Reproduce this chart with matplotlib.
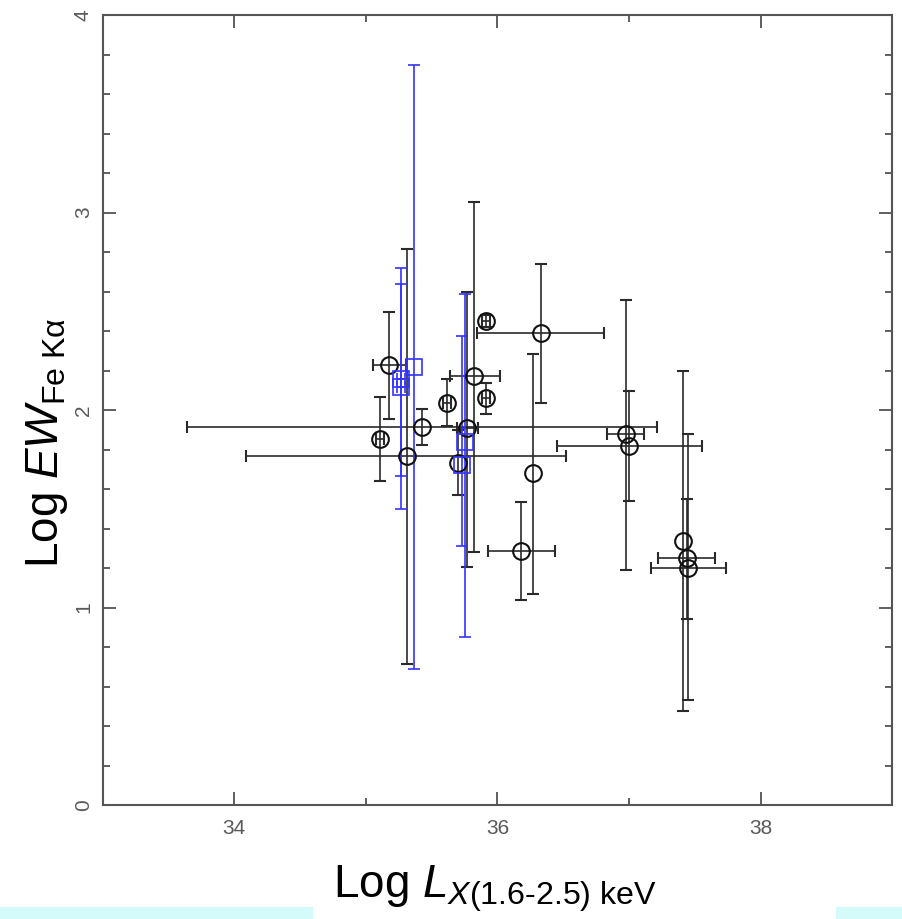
import numpy as np
import matplotlib
matplotlib.use("Agg")
import matplotlib.pyplot as plt
from matplotlib.patches import Rectangle
from matplotlib.ticker import MultipleLocator

plt.rcParams['font.family'] = ['Liberation Sans', 'DejaVu Sans']
plt.rcParams['mathtext.fontset'] = 'custom'
plt.rcParams['mathtext.rm'] = 'Liberation Sans'
plt.rcParams['mathtext.it'] = 'Liberation Sans:italic'
plt.rcParams['mathtext.bf'] = 'Liberation Sans:bold'

nan = np.nan

# black circles: log L, log EW, lower/upper EW bound, lower/upper L bound
circ_x = [35.11, 35.178, 35.31, 35.43, 35.614, 35.821, 35.913, 35.91, 35.766,
          35.70, 36.328, 36.272, 36.18, 36.977, 37.0, 37.413, 37.44, 37.45]
circ_y = [1.852, 2.228, 1.769, 1.912, 2.037, 2.172, 2.452, 2.059, 1.907,
          1.733, 2.388, 1.683, 1.288, 1.878, 1.819, 1.338, 1.252, 1.198]
circ_ylo = [1.642, 1.953, 0.715, 1.823, 1.919, 1.28, 2.42, 1.98, 1.207,
            1.57, 2.034, 1.067, 1.037, 1.192, 1.541, 0.476, 0.942, 0.532]
circ_yhi = [2.064, 2.495, 2.817, 2.007, 2.155, 3.055, 2.48, 2.135, 2.60,
            1.90, 2.742, 2.284, 1.535, 2.557, 2.098, 2.2, 1.549, 1.878]
circ_xlo = [35.08, 35.057, 34.09, 33.64, 35.584, 35.639, 35.883, 35.88, 35.69,
            nan, 35.846, nan, 35.93, 36.834, 36.45, nan, 37.22, 37.167]
circ_xhi = [35.14, 35.305, 36.52, 37.21, 35.644, 36.019, 35.943, 35.94, 35.854,
            nan, 36.809, nan, 36.436, 37.115, 37.553, nan, 37.65, 37.737]

# blue squares
sq_x = [35.267, 35.267, 35.366, 35.753, 35.728]
sq_y = [2.16, 2.115, 2.216, 1.84, 1.722]
sq_ylo = [1.50, 1.667, 0.69, 0.849, 1.311]
sq_yhi = [2.72, 2.64, 3.747, 2.586, 2.375]
sq_xlo = [35.237, 35.237, nan, nan, nan]
sq_xhi = [35.297, 35.297, nan, nan, nan]


def errs(v, lo, hi):
    v, lo, hi = np.array(v), np.array(lo), np.array(hi)
    return np.vstack([v - lo, hi - v])


fig = plt.figure(figsize=(9.03, 9.19), dpi=100)
ax = fig.add_axes([0.1137, 0.124, 0.8744, 0.8595])

ax.errorbar(circ_x, circ_y, yerr=errs(circ_y, circ_ylo, circ_yhi),
            xerr=errs(circ_x, circ_xlo, circ_xhi), fmt='o', ms=12,
            mfc='none', mec='#111111', mew=1.5, ecolor='#2a2a2a',
            elinewidth=1.2, capsize=4, capthick=1.2)
ax.errorbar(sq_x, sq_y, yerr=errs(sq_y, sq_ylo, sq_yhi),
            xerr=errs(sq_x, sq_xlo, sq_xhi), fmt='s', ms=11,
            mfc='none', mec='#3333ff', mew=1.2, ecolor='#3333ff',
            elinewidth=1.2, capsize=4, capthick=1.2)

ax.set_xlim(33, 39)
ax.set_ylim(0, 4)
ax.xaxis.set_major_locator(MultipleLocator(2))
ax.xaxis.set_minor_locator(MultipleLocator(1))
ax.yaxis.set_major_locator(MultipleLocator(1))
ax.yaxis.set_minor_locator(MultipleLocator(0.2))
ax.tick_params(which='both', direction='in', top=True, right=True,
               color='#444444', width=1.2, labelcolor='#5a5a5a', labelsize=15)
ax.tick_params(which='major', length=9.5)
ax.tick_params(which='minor', length=5)
ax.tick_params(axis='x', pad=10)
ax.tick_params(axis='y', labelrotation=90, pad=7)
for lab in ax.get_yticklabels():
    lab.set_va('center')
for s in ax.spines.values():
    s.set_color('#555555')
    s.set_linewidth(1.5)

fig.text(0.3688, 0.0229, r'Log $\mathit{L}_{\mathit{X}\mathrm{(1.6\text{-}2.5)\ keV}}$',
         fontsize=33, ha='left', va='baseline')
fig.text(0.0526, 0.5185, r'Log $\mathit{EW}_{\mathrm{Fe\ Kα}}$',
         fontsize=33, rotation=90, ha='center', va='center')

# light cyan strips along the bottom edge
fig.patches.append(Rectangle((0, 0), 0.3455, 0.013, transform=fig.transFigure,
                             color='#d4fafa', zorder=0))
fig.patches.append(Rectangle((0.926, 0), 0.074, 0.013, transform=fig.transFigure,
                             color='#d4fafa', zorder=0))

fig.savefig('out.png', dpi=100)
